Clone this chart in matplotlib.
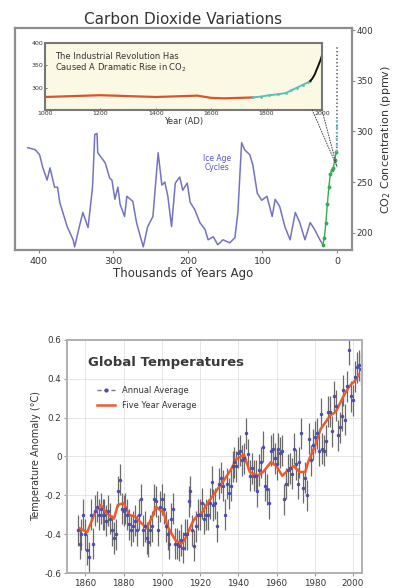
import matplotlib
matplotlib.use("Agg")
import matplotlib.pyplot as plt
from matplotlib.patches import ConnectionPatch
from matplotlib.lines import Line2D

plt.rcParams['font.family'] = ['DejaVu Sans']

# ---------------- CO2 data ----------------
vostok_kyr = [415, 405, 399, 395, 389, 385, 379, 375, 372, 362, 354, 352, 346, 341, 334,
              328, 325, 322, 321, 314, 311, 305, 302, 298, 294, 291, 285, 282, 274, 269,
              260, 254, 247, 240, 235, 231, 227, 222, 217, 211, 207, 201, 197, 191, 184,
              177, 173, 166, 160, 153, 144, 137, 133, 128, 124, 117, 113, 107, 101, 94,
              87, 83, 77, 70, 63, 56, 50, 43, 36, 30, 23, 18]
vostok_ppm = [284, 282, 277, 265, 252, 264, 245, 245, 230, 206, 193, 186, 205, 220, 205,
              245, 297, 298, 279, 272, 269, 254, 252, 233, 245, 228, 216, 236, 231, 210,
              186, 206, 216, 279, 247, 250, 236, 206, 249, 255, 242, 249, 230, 223, 210,
              203, 193, 196, 188, 193, 190, 195, 220, 289, 282, 277, 267, 239, 232, 236,
              216, 233, 226, 206, 193, 220, 210, 193, 210, 203, 193, 187]
holocene_kyr = [19, 17, 15, 13, 11, 9, 7, 5, 3, 1]
holocene_ppm = [188, 195, 210, 228, 245, 258, 262, 264, 272, 280]
modern_kyr = [0.3, 0.2, 0.1, 0.05, 0.0]
modern_ppm = [280, 290, 315, 345, 385]

# inset (last 1000 years)
law_year = [1000, 1050, 1100, 1150, 1200, 1250, 1300, 1350, 1400, 1450, 1500, 1550,
            1600, 1650, 1700, 1750]
law_ppm = [279, 280, 281, 282, 283, 282, 281, 280, 279, 280, 281, 282, 277, 276, 277, 278]
siple_year = [1750, 1780, 1810, 1840, 1870, 1890, 1910, 1930, 1950, 1958]
siple_ppm = [278, 280, 283, 285, 288, 294, 300, 306, 312, 315]
mlo_year = [1958, 1965, 1970, 1975, 1980, 1985, 1990, 1995, 2000]
mlo_ppm = [315, 320, 325, 331, 339, 346, 354, 362, 372]

main_xticks = [400, 300, 200, 100, 0]
main_yticks = [200, 250, 300, 350, 400]
inset_xticks = [1000, 1200, 1400, 1600, 1800, 2000]
inset_yticks = [300, 350, 400]

# ---------------- Temperature data ----------------
years = list(range(1856, 2005))
annual = [-0.38, -0.45, -0.40, -0.30,
          -0.40, -0.48, -0.52, -0.30, -0.45, -0.28, -0.26, -0.30, -0.27, -0.30,
          -0.30, -0.33, -0.28, -0.32, -0.38, -0.42, -0.40, -0.18, -0.12, -0.27,
          -0.28, -0.27, -0.30, -0.35, -0.38, -0.36, -0.33, -0.38, -0.30, -0.22,
          -0.38, -0.36, -0.42, -0.44, -0.38, -0.36, -0.22, -0.23, -0.38, -0.26,
          -0.22, -0.27, -0.36, -0.40, -0.45, -0.32, -0.27, -0.45, -0.45, -0.46,
          -0.43, -0.47, -0.40, -0.40, -0.23, -0.18, -0.38, -0.46, -0.36, -0.30,
          -0.30, -0.24, -0.32, -0.30, -0.30, -0.24, -0.13, -0.25, -0.24, -0.36,
          -0.14, -0.11, -0.15, -0.30, -0.14, -0.19, -0.15, -0.05, -0.03, -0.05,
          0.02, 0.03, -0.02, -0.01, 0.12, 0.01, -0.10, -0.06, -0.10, -0.10,
          -0.18, -0.07, -0.03, 0.05, -0.15, -0.17, -0.24, 0.03, 0.04, -0.01,
          -0.04, 0.04, 0.02, 0.03, -0.22, -0.14, -0.07, -0.06, -0.09, 0.04,
          -0.04, -0.14, -0.03, 0.12, -0.16, -0.11, -0.20, 0.09, -0.02, 0.06,
          0.10, 0.12, 0.03, 0.22, 0.04, 0.03, 0.08, 0.23, 0.23, 0.13,
          0.31, 0.26, 0.11, 0.15, 0.21, 0.34, 0.19, 0.36, 0.55, 0.31,
          0.29, 0.41, 0.46, 0.47, 0.45]
annual_err = 0.08
five_year = [1857, 1859, 1861, 1865, 1868, 1871, 1875, 1877, 1880, 1883, 1886, 1889,
             1892, 1895, 1897, 1901, 1903, 1907, 1910, 1912, 1916, 1918, 1921, 1924,
             1929, 1932, 1936, 1939, 1943, 1946, 1950, 1953, 1957, 1960, 1963, 1966,
             1969, 1972, 1975, 1977, 1980, 1983, 1988, 1991, 1995, 1998, 2001, 2003]
five_val = [-0.37, -0.38, -0.39, -0.29, -0.25, -0.29, -0.32, -0.25, -0.24, -0.30, -0.31,
            -0.34, -0.37, -0.31, -0.26, -0.29, -0.36, -0.43, -0.45, -0.43, -0.34, -0.31,
            -0.29, -0.24, -0.17, -0.13, -0.07, -0.015, 0.01, -0.08, -0.10, -0.08, -0.03,
            -0.05, -0.10, -0.07, -0.05, -0.08, -0.08, -0.015, 0.05, 0.14, 0.21, 0.23,
            0.31, 0.36, 0.39, 0.42]
temp_xticks = [1860, 1880, 1900, 1920, 1940, 1960, 1980, 2000]
temp_yticks = [-0.6, -0.4, -0.2, 0, 0.2, 0.4, 0.6]
temp_ylabels = ['-0.6', '-0.4', '-0.2', '0', '0.2', '0.4', '0.6']

# ---------------- Figure ----------------
fig = plt.figure(figsize=(3.95, 5.88), dpi=100)
TXT = '#333333'

# main CO2 axes
ax = fig.add_axes([0.038, 0.575, 0.853, 0.377])
ax.plot(vostok_kyr, vostok_ppm, color='#5b5bb5', lw=1.1, alpha=0.85)
ax.plot(holocene_kyr, holocene_ppm, color='#3aa956', lw=1.0, marker='o', ms=1.8)
ax.plot(modern_kyr, modern_ppm, color='#444444', lw=1.0, ls=':')
ax.plot(modern_kyr[:3], modern_ppm[:3], color='#66c8c8', lw=1.6, ls=':')
ax.set_xlim(432, -20)
ax.set_ylim(183, 402)
ax.set_xticks(main_xticks)
ax.set_yticks(main_yticks)
ax.yaxis.tick_right()
ax.yaxis.set_label_position('right')
ax.tick_params(axis='x', labelsize=6.8, colors='#888888', labelcolor=TXT,
               length=2, width=0.8, pad=3)
ax.tick_params(axis='y', labelsize=6.3, colors='#888888', labelcolor=TXT,
               length=2, width=0.8, pad=1.5)
for s in ax.spines.values():
    s.set_color('#8e8e8e')
    s.set_linewidth(1.6)
ax.set_xlabel('Thousands of Years Ago', fontsize=8.5, color=TXT, labelpad=1)
ax.set_ylabel('CO$_2$ Concentration (ppmv)', fontsize=8, color=TXT,
              rotation=90, labelpad=4)
ax.set_title('Carbon Dioxide Variations', fontsize=11, color=TXT, pad=3)
ax.text(161, 269, 'Ice Age\nCycles', color='#5555bb', fontsize=5.5,
        ha='center', va='center', linespacing=1.0)

# inset
axi = fig.add_axes([0.114, 0.813, 0.701, 0.114])
axi.set_facecolor('#fbf9e4')
axi.plot(law_year, law_ppm, color='#d8542c', lw=1.6)
axi.plot(siple_year, siple_ppm, color='#5cc0b5', lw=1.4, marker='.', ms=2)
axi.plot(mlo_year, mlo_ppm, color='#111111', lw=1.4)
axi.set_xlim(1000, 2000)
axi.set_ylim(250, 400)
axi.set_xticks(inset_xticks)
axi.set_yticks(inset_yticks)
axi.tick_params(axis='both', labelsize=4.5, colors='#555555', labelcolor=TXT,
                length=1.5, width=0.6, pad=1, direction='in')
for s in axi.spines.values():
    s.set_color('#777777')
    s.set_linewidth(1.5)
axi.set_xlabel('Year (AD)', fontsize=6, color=TXT, labelpad=0.5)
axi.text(0.035, 0.87, 'The Industrial Revolution Has\nCaused A Dramatic Rise in CO$_2$',
         transform=axi.transAxes, fontsize=6, color=TXT, va='top', ha='left',
         linespacing=1.05)

for xi in (1965, 2000):
    cp = ConnectionPatch(xyA=(xi, 250), coordsA=axi.transData,
                         xyB=(0, 265), coordsB=ax.transData,
                         color='#444444', lw=0.7, ls=':')
    fig.add_artist(cp)

# temperature axes
ax2 = fig.add_axes([0.170, 0.0255, 0.747, 0.3965])
ax2.grid(True, color='#e2e2e2', lw=0.6)
ax2.set_axisbelow(True)
ax2.errorbar(years, annual, yerr=annual_err, fmt='.', color='#4d4dab', ms=3,
             ecolor='#6a6a6a', elinewidth=0.9, capsize=0)
ax2.plot(five_year, five_val, color='#ee5a2c', lw=1.8)
ax2.set_xlim(1850.5, 2004.8)
ax2.set_ylim(-0.6, 0.6)
ax2.set_xticks(temp_xticks)
ax2.set_yticks(temp_yticks)
ax2.set_yticklabels(temp_ylabels)
ax2.tick_params(axis='both', labelsize=6.3, colors='#999999', labelcolor=TXT,
                length=2, width=0.8, pad=2)
for s in ax2.spines.values():
    s.set_color('#b0b0b0')
    s.set_linewidth(1.4)
ax2.set_ylabel('Temperature Anomaly (°C)', fontsize=7, color=TXT, labelpad=3)
ax2.text(0.07, 0.905, 'Global Temperatures', transform=ax2.transAxes,
         fontsize=9.5, fontweight='bold', color='#3a3a3a', va='center')
h1 = Line2D([], [], color='#777777', ls=(0, (3, 2)), marker='.', ms=4,
            mfc='#4d4dab', mec='#4d4dab', lw=1)
h2 = Line2D([], [], color='#ee5a2c', lw=1.8)
ax2.legend([h1, h2], ['Annual Average', 'Five Year Average'], loc='upper left',
           bbox_to_anchor=(0.09, 0.815), frameon=False, fontsize=6,
           handlelength=2.2, handletextpad=0.8, labelspacing=0.7,
           labelcolor=TXT, borderaxespad=0)

fig.savefig('out.png', dpi=100)
